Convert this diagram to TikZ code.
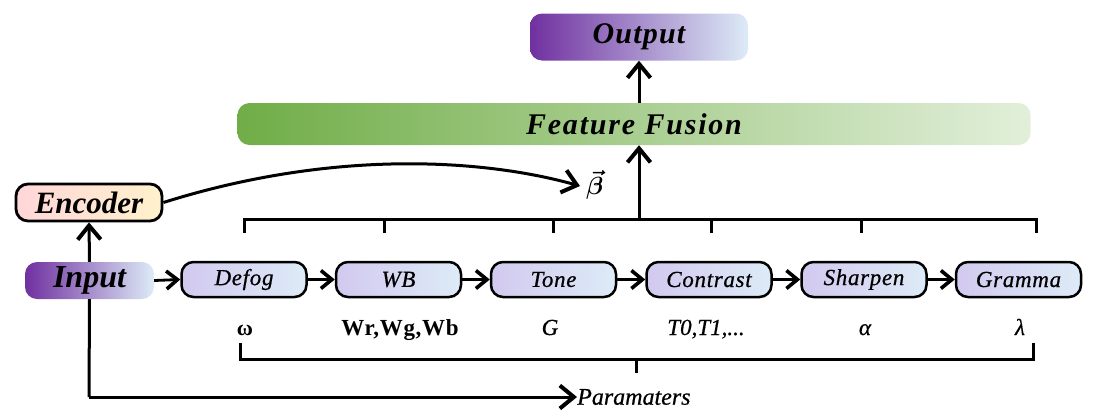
\documentclass[tikz,border=0pt]{standalone}
\usepackage{fontspec}
\setmainfont{Liberation Serif}
\usepackage{amsmath}
\usepackage{bm}
\usetikzlibrary{arrows.meta}
\definecolor{cpur}{HTML}{7030A0}
\definecolor{clav}{HTML}{CC99F5}
\definecolor{cblu}{HTML}{DDEBF7}
\definecolor{mlav}{HTML}{D2C9EF}
\definecolor{mmid}{HTML}{E8E4F6}
\definecolor{cgrn}{HTML}{70AD47}
\definecolor{cgrl}{HTML}{E2EFDA}
\definecolor{cpink}{HTML}{FFD6D8}
\definecolor{cyel}{HTML}{FFF2CC}
\newcommand{\fsz}[1]{\fontsize{#1}{#1}\selectfont}
\begin{document}
\begin{tikzpicture}[x=1pt,y=-1pt,
  ln/.style={line width=3pt},
  arr/.style={line width=3pt,-{Straight Barb[length=14pt,width=23pt,line width=4pt]}},
  sarr/.style={line width=2.8pt,-{Straight Barb[length=11pt,width=18pt,line width=3.6pt]}},
  modbox/.style={draw=black,line width=2.5pt,rounded corners=12pt,minimum width=125pt,minimum height=35pt,
    left color=mlav,middle color=mmid,right color=cblu,inner sep=0pt,font=\fsz{23}\itshape\addfontfeatures{LetterSpace=3,FakeBold=0.6}},
  ioshade/.style={rounded corners=12pt,left color=cpur,middle color=clav,right color=cblu,inner sep=0pt},
  plab/.style={anchor=base,inner sep=0pt}
]
\useasboundingbox (0,0) rectangle (1093,416);
% Output
\node[ioshade,minimum width=218pt,minimum height=47pt,font=\fsz{30}\bfseries\itshape\addfontfeatures{LetterSpace=4}] (out) at (639,37) {Output};
% Feature fusion
\node[rounded corners=12pt,left color=cgrn,right color=cgrl,minimum width=793pt,minimum height=42pt,inner sep=0pt,
  font=\fsz{30}\bfseries\itshape\addfontfeatures{LetterSpace=6}] (ff) at (634,124) {Feature Fusion};
\draw[arr] (ff.north -| out.south) -- (out.south);
% Encoder
\node[draw=black,line width=2.8pt,rounded corners=12pt,left color=cpink,right color=cyel,minimum width=146pt,minimum height=37pt,inner sep=0pt,
  font=\fsz{31}\bfseries\itshape] (enc) at (89,202.5) {Encoder};
% Input
\node[ioshade,minimum width=129pt,minimum height=37pt,font=\fsz{32}\bfseries\itshape] (inp) at (89.5,280.5) {Input};
% Modules
\node[modbox] (m1) at (244,279.5) {Defog};
\node[modbox] (m2) at (398.5,279.5) {WB};
\node[modbox] (m3) at (553.5,279.5) {Tone};
\node[modbox] (m4) at (709,279.5) {Contrast};
\node[modbox] (m5) at (864,279.5) {Sharpen};
\node[modbox] (m6) at (1018.5,279.5) {Gramma};
\draw[sarr] (inp.east) -- (m1.west);
\draw[sarr] (m1.east) -- (m2.west);
\draw[sarr] (m2.east) -- (m3.west);
\draw[sarr] (m3.east) -- (m4.west);
\draw[sarr] (m4.east) -- (m5.west);
\draw[sarr] (m5.east) -- (m6.west);
% top bracket
\coordinate (t1) at (244,233);
\coordinate (t2) at (384,233);
\coordinate (t3) at (553,233);
\coordinate (t4) at (711,233);
\coordinate (t5) at (861,233);
\coordinate (t6) at (1036,233);
\coordinate (tl) at (244,219);
\coordinate (tr) at (1036,219);
\coordinate (tc) at (639,219);
\draw[ln] (t1) -- (tl) -- (tr) -- (t6);
\draw[ln] (t2) -- (t2 |- tl);
\draw[ln] (t3) -- (t3 |- tl);
\draw[ln] (t4) -- (t4 |- tl);
\draw[ln] (t5) -- (t5 |- tl);
\draw[arr] (tc) -- (tc |- ff.south);
% encoder to beta
\coordinate (b) at (580,186);
\draw[arr] (enc.east) .. controls (330,150) and (480,158) .. (b);
\node[anchor=west,inner sep=0pt,font=\fsz{27}] (beta) at (586,185) {$\boldsymbol{\vec{\beta}}$};
% params
\node[plab,font=\fsz{22}\bfseries] (p1) at (245,335) {ω};
\node[plab,font=\fsz{23}\bfseries\addfontfeatures{LetterSpace=3}] (p2) at (400,335) {Wr,Wg,Wb};
\node[plab,font=\fsz{23}\itshape\addfontfeatures{FakeBold=0.6}] (p3) at (550,335) {G};
\node[plab,font=\fsz{23}\itshape\addfontfeatures{FakeBold=0.6}] (p4) at (706,335) {T0,T1,...};
\node[plab,font=\fsz{23}\itshape\addfontfeatures{FakeBold=0.6}] (p5) at (865,335) {α};
\node[plab,font=\fsz{23}\itshape\addfontfeatures{FakeBold=0.6}] (p6) at (1020,335) {λ};
% bottom bracket
\coordinate (bl) at (240,343);
\coordinate (br) at (1033,343);
\coordinate (bc) at (636,373);
\draw[ln] (bl) -- (bl |- 0,359) -- (br |- 0,359) -- (br);
\draw[ln] (bc) -- (bc |- 0,359);
% input path
\coordinate (c) at (89,397);
\node[anchor=west,inner sep=0pt,font=\fsz{24}\itshape\addfontfeatures{FakeBold=0.6}] (par) at (577,397) {Paramaters};
\draw[arr] (inp.north) -- (enc.south);
\draw[ln] (inp.south) -- (c);
\draw[arr] (c) -- (par.west);
\end{tikzpicture}
\end{document}
